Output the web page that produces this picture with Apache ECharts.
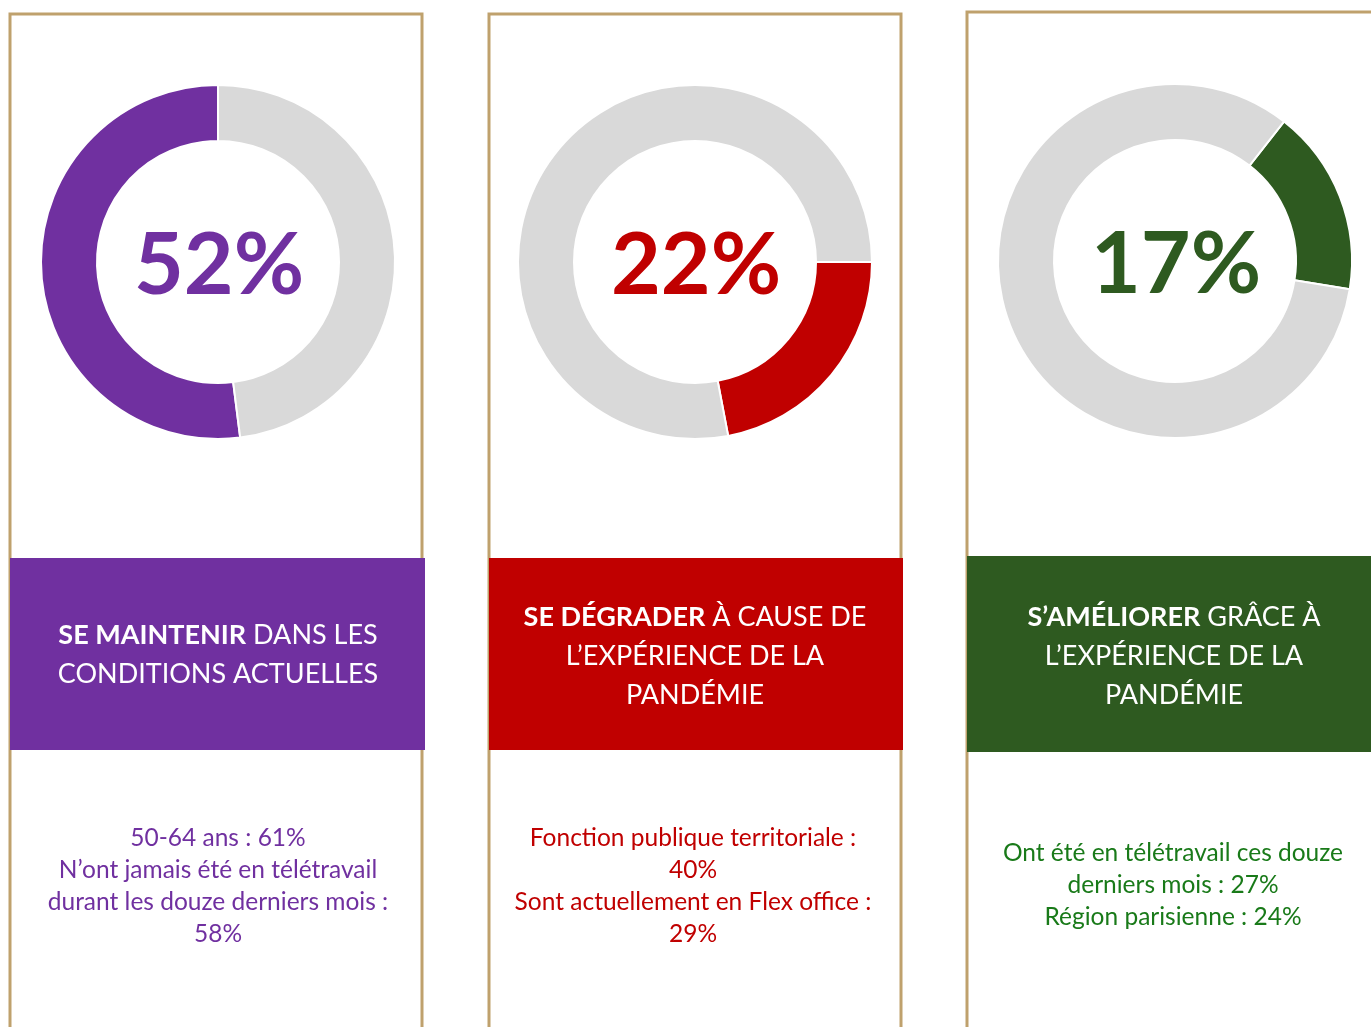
<!DOCTYPE html>
<html>
<head>
<meta charset="utf-8">
<script src="https://cdn.jsdelivr.net/npm/echarts@6/dist/echarts.min.js"></script>
<style>
  html, body { margin: 0; padding: 0; background: #fff; }
  #chart { width: 1371px; height: 1027px; }
</style>
</head>
<body>
<div id="chart"></div>
<script>
// valeurs des trois anneaux (en %)
const shares = [52, 22, 17]
const startAngles = [90, 0, 52]
const clockwise = [false, true, true]
const mainColors = ['#7030A0', '#C00000', '#2E5A20']
const textColors = ['#7030A0', '#C00000', '#197A19']
const restColor = '#D9D9D9'

const bannerBold = ['SE MAINTENIR', 'SE DÉGRADER', 'S’AMÉLIORER']
const bannerLines = [
  [' DANS LES', 'CONDITIONS ACTUELLES'],
  [' À CAUSE DE', 'L’EXPÉRIENCE DE LA', 'PANDÉMIE'],
  [' GRÂCE À', 'L’EXPÉRIENCE DE LA', 'PANDÉMIE']
]
const detailLines = [
  ['50-64 ans : 61%', 'N’ont jamais été en télétravail', 'durant les douze derniers mois :', '58%'],
  ['Fonction publique territoriale :', '40%', 'Sont actuellement en Flex office :', '29%'],
  ['Ont été en télétravail ces douze', 'derniers mois : 27%', 'Région parisienne : 24%']
]

// mise en page
const panelX = [10, 489, 967]
const panelY = [14, 14, 12]
const panelW = [412, 412, 420]
const bannerBox = [[10, 558, 415, 192], [489, 558, 414, 192], [967, 556, 404, 196]]
const textCenterX = [218, 695, 1174]
const detailCenterX = [218, 693, 1173]
const bannerTextY = [655, 656, 656]
const detailTextY = [886, 886, 885]
const pieCenters = [[218, 262], [695, 262], [1175, 261]]
const FONT = 'Lato, "Open Sans", sans-serif'

const chart = echarts.init(document.getElementById('chart'), null, { renderer: 'canvas' })

const series = shares.map((v, i) => ({
  type: 'pie',
  center: pieCenters[i],
  radius: [121, 177],
  startAngle: startAngles[i],
  clockwise: clockwise[i],
  silent: true,
  label: { show: false },
  labelLine: { show: false },
  itemStyle: { borderColor: '#fff', borderWidth: 2 },
  data: [
    { value: v, itemStyle: { color: mainColors[i] } },
    { value: 100 - v, itemStyle: { color: restColor } }
  ]
}))

const graphic = []
shares.forEach((v, i) => {
  graphic.push({
    type: 'rect',
    z: 1,
    shape: { x: panelX[i], y: panelY[i], width: panelW[i], height: 1100 },
    style: { fill: 'none', stroke: '#BFA16D', lineWidth: 3 }
  })
  const b = bannerBox[i]
  graphic.push({
    type: 'rect',
    z: 2,
    shape: { x: b[0], y: b[1], width: b[2], height: b[3] },
    style: { fill: mainColors[i] }
  })
  const lines = bannerLines[i].slice()
  lines[0] = '{b|' + bannerBold[i] + '}{n|' + lines[0] + '}'
  for (let k = 1; k < lines.length; k++) lines[k] = '{n|' + lines[k] + '}'
  graphic.push({
    type: 'text',
    z: 3,
    x: textCenterX[i],
    y: bannerTextY[i],
    style: {
      text: lines.join('\n'),
      align: 'center',
      verticalAlign: 'middle',
      fill: '#fff',
      font: '27px ' + FONT,
      lineHeight: 39,
      rich: {
        b: { fontFamily: FONT, fontSize: 27, fontWeight: 'bold', fill: '#fff', lineHeight: 39 },
        n: { fontFamily: FONT, fontSize: 27, fontWeight: 'normal', fill: '#fff', lineHeight: 39 }
      }
    }
  })
  graphic.push({
    type: 'text',
    z: 3,
    x: pieCenters[i][0] + 1,
    y: pieCenters[i][1] + 4,
    style: {
      text: v + '%',
      align: 'center',
      verticalAlign: 'middle',
      fill: mainColors[i],
      font: 'bold 86px ' + FONT
    }
  })
  graphic.push({
    type: 'text',
    z: 3,
    x: detailCenterX[i],
    y: detailTextY[i],
    style: {
      text: detailLines[i].join('\n'),
      align: 'center',
      verticalAlign: 'middle',
      fill: textColors[i],
      font: '24.5px ' + FONT,
      lineHeight: 32
    }
  })
})

chart.setOption({
  backgroundColor: '#fff',
  animation: false,
  series,
  graphic
})
</script>
</body>
</html>
